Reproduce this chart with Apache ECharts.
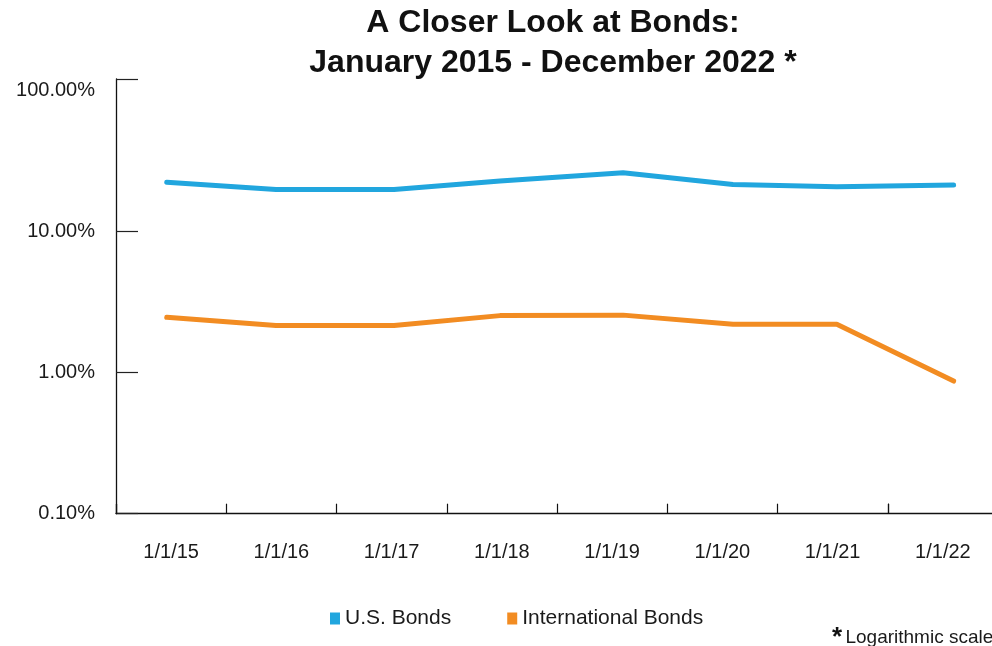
<!DOCTYPE html>
<html>
<head>
<meta charset="utf-8">
<title>A Closer Look at Bonds</title>
<script src="https://cdn.jsdelivr.net/npm/echarts@6/dist/echarts.min.js"></script>
<style>
  html, body { margin: 0; padding: 0; background: #ffffff; }
  #chart { width: 992px; height: 646px; }
</style>
</head>
<body>
<div id="chart"></div>
<script>
// Observation dates for each series point
const obsDates = ['2015-06-18', '2016-06-14', '2017-07-10', '2018-06-26',
                  '2019-08-08', '2020-08-06', '2021-07-16', '2022-08-07'];
// Values in percent
const usBonds = [22.3, 19.8, 19.8, 22.7, 26.0, 21.5, 20.7, 21.3];
const intlBonds = [2.46, 2.15, 2.15, 2.53, 2.55, 2.20, 2.20, 0.87];
// Year labels on the x axis
const yearLabels = ['1/1/15', '1/1/16', '1/1/17', '1/1/18', '1/1/19', '1/1/20', '1/1/21', '1/1/22'];
// Year boundaries where x ticks are drawn
const yearStarts = ['2015-01-01', '2016-01-01', '2017-01-01', '2018-01-01',
                    '2019-01-01', '2020-01-01', '2021-01-01', '2022-01-01'];
// Labelled decades on the log axis (percent)
const yLabelValues = [0.1, 1, 10, 100];
const yTickValues = [0.1, 1, 10, 120];
const yMin = 0.1, yMax = 120;

const seriesNames = ['U.S. Bonds', 'International Bonds'];
const seriesColors = ['#21A6DE', '#F28C22'];

const pair = (vals) => vals.map((v, i) => [obsDates[i], v]);
const ts = (d) => new Date(d + 'T00:00:00Z').getTime();

const chart = echarts.init(document.getElementById('chart'), null, { renderer: 'canvas' });
const FONT = '"Liberation Sans", Arial, Helvetica, sans-serif';

chart.setOption({
  animation: false,
  backgroundColor: '#ffffff',
  textStyle: { fontFamily: FONT },
  title: {
    text: 'A Closer Look at Bonds:\nJanuary 2015 - December 2022 *',
    left: 553,
    top: 3,
    padding: 0,
    textAlign: 'center',
    textStyle: { fontFamily: FONT, fontSize: 32, fontWeight: 'bold', color: '#111111', lineHeight: 40 }
  },
  legend: {
    data: seriesNames,
    left: 325,
    top: 603,
    itemGap: 56,
    itemWidth: 10,
    itemHeight: 12,
    icon: 'rect',
    textStyle: { fontFamily: FONT, fontSize: 21, color: '#1a1a1a' }
  },
  grid: {
    left: 116,
    top: 79,
    width: 882,
    height: 434.7,
    outerBoundsMode: 'none',
    containLabel: false
  },
  xAxis: [
    {
      type: 'time',
      min: ts('2015-01-01'),
      max: ts('2023-01-01'),
      axisLine: { show: true, lineStyle: { color: '#111111', width: 1.3 } },
      axisTick: {
        show: true, inside: true, length: 10,
        customValues: yearStarts.map(ts),
        lineStyle: { color: '#111111', width: 1.2 }
      },
      axisLabel: { show: false },
      splitLine: { show: false }
    },
    {
      type: 'category',
      position: 'bottom',
      data: yearLabels,
      boundaryGap: true,
      axisLine: { show: false },
      axisTick: { show: false },
      axisLabel: { margin: 29, fontFamily: FONT, fontSize: 20, color: '#1a1a1a' },
      splitLine: { show: false }
    }
  ],
  yAxis: {
    type: 'log',
    logBase: 10,
    min: yMin,
    max: yMax,
    axisLine: { show: true, lineStyle: { color: '#111111', width: 1.3 } },
    axisTick: {
      show: true, inside: true, length: 22,
      customValues: yTickValues,
      lineStyle: { color: '#222222', width: 1.2 }
    },
    axisLabel: {
      customValues: yLabelValues,
      margin: 21,
      fontFamily: FONT,
      fontSize: 20,
      color: '#1a1a1a',
      formatter: (v) => Number(v).toFixed(2) + '%'
    },
    splitLine: { show: false }
  },
  series: [
    {
      name: seriesNames[0],
      type: 'line',
      xAxisIndex: 0,
      data: pair(usBonds),
      symbol: 'none',
      color: seriesColors[0],
      lineStyle: { width: 5, color: seriesColors[0], cap: 'round', join: 'round' }
    },
    {
      name: seriesNames[1],
      type: 'line',
      xAxisIndex: 0,
      data: pair(intlBonds),
      symbol: 'none',
      color: seriesColors[1],
      lineStyle: { width: 5, color: seriesColors[1], cap: 'round', join: 'round' }
    }
  ],
  graphic: [
    {
      type: 'text',
      left: 832,
      top: 625,
      style: {
        text: '{a|*} {b|Logarithmic scale}',
        rich: {
          a: { fontFamily: FONT, fontSize: 26, fontWeight: 'bold', fill: '#111111', verticalAlign: 'bottom' },
          b: { fontFamily: FONT, fontSize: 19, fill: '#1a1a1a' }
        }
      }
    }
  ]
});
</script>
</body>
</html>
